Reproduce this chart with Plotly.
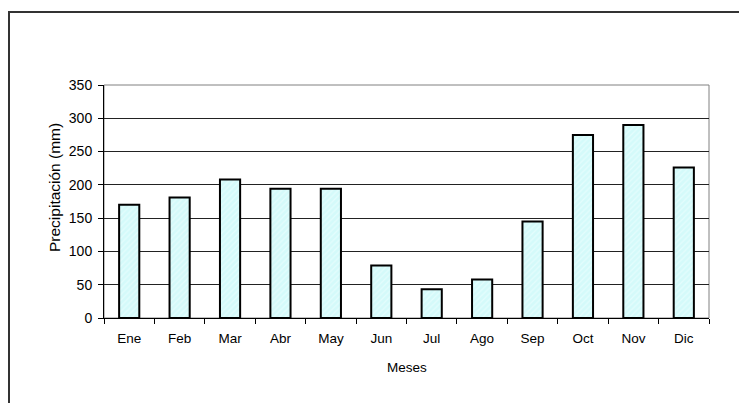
import plotly.graph_objects as go

meses = ["Ene", "Feb", "Mar", "Abr", "May", "Jun", "Jul", "Ago", "Sep", "Oct", "Nov", "Dic"]
precipitacion = [170, 181, 208, 194, 194, 79, 43, 58, 145, 275, 290, 226]
y_ticks = [0, 50, 100, 150, 200, 250, 300, 350]

# page is offset by the 8px body margin
OFF = 8
PAGE_W, PAGE_H = 747, 403
W, H = PAGE_W - OFF, PAGE_H - OFF
# plot area in page pixels: x 104..709, y 85..318
L, R, T, B = 104 - OFF, PAGE_W - 709, 85 - OFF, PAGE_H - 318
pw, ph = 709 - 104, 318 - 85

def px(x):
    return (x - 104) / pw

def py(y):
    return (318 - y) / ph

family = "Liberation Sans, Arial, sans-serif"
xfont = dict(family=family, size=13.5, color="#000000")
yfont = dict(family=family, size=14, color="#000000")

fig = go.Figure()
fig.add_trace(go.Bar(
    x=meses, y=precipitacion, width=0.4,
    marker=dict(
        color="#d4fafa",
        line=dict(color="#000000", width=2),
        pattern=dict(shape="/", fgcolor="#f2ffff", size=4, solidity=0.35),
    ),
))

fig.update_layout(
    width=W, height=H,
    margin=dict(l=L, r=R, t=T, b=B, autoexpand=False),
    paper_bgcolor="white", plot_bgcolor="white",
    showlegend=False, bargap=0.6,
    xaxis=dict(
        showline=True, linecolor="#000000", linewidth=1,
        ticks="outside", ticklen=5, tickcolor="#000000", tickson="boundaries",
        showgrid=False, tickfont=xfont, ticklabelstandoff=8,
    ),
    yaxis=dict(
        range=[0, 350], tickvals=y_ticks,
        showline=True, linecolor="#000000", linewidth=1,
        ticks="outside", ticklen=5, tickcolor="#000000",
        showgrid=True, gridcolor="#222222", gridwidth=1,
        zeroline=False, tickfont=yfont, ticklabelstandoff=3,
    ),
    annotations=[
        dict(text="Meses", xref="paper", yref="paper", x=px(407), y=py(367),
             xanchor="center", yanchor="middle", showarrow=False, font=xfont),
        dict(text="Precipitación (mm)", xref="paper", yref="paper", x=px(54), y=py(188),
             xanchor="center", yanchor="middle", showarrow=False, textangle=-90,
             font=dict(family=family, size=15.5, color="#000000")),
    ],
    shapes=[
        dict(type="rect", xref="paper", yref="paper", x0=0, y0=0, x1=1, y1=1,
             line=dict(color="#808080", width=1), layer="below"),
        dict(type="rect", xref="paper", yref="paper",
             x0=px(9), y0=py(12), x1=px(780), y1=py(440),
             line=dict(color="#333333", width=2)),
    ],
)

fig.write_html("out.html")
